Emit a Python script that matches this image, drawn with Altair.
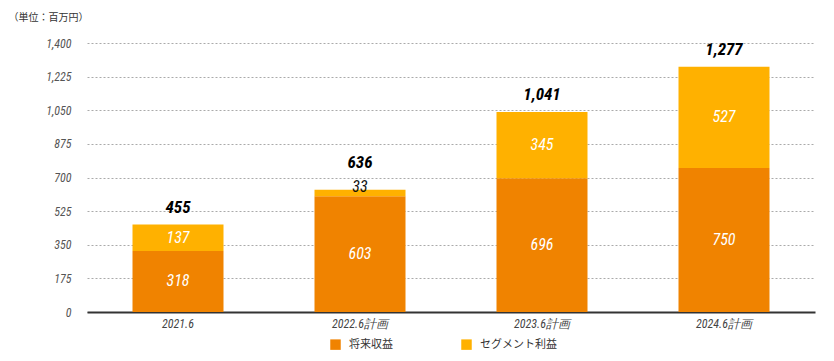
import altair as alt
import pandas as pd

categories = ["2021.6", "2022.6計画", "2023.6計画", "2024.6計画"]
series_names = ["将来収益", "セグメント利益"]
future_revenue = [318, 603, 696, 750]
segment_profit = [137, 33, 345, 527]
totals = [455, 636, 1041, 1277]
y_ticks = [0, 175, 350, 525, 700, 875, 1050, 1225, 1400]
colors = ["#F08300", "#FFB100"]

rows = []
for i, c in enumerate(categories):
    rows.append({"category": c, "series": series_names[0], "value": future_revenue[i], "order": 0})
    rows.append({"category": c, "series": series_names[1], "value": segment_profit[i], "order": 1})
df = pd.DataFrame(rows)
tot = pd.DataFrame({"category": categories, "total": totals})

FONT = "Liberation Sans Narrow, Roboto Condensed, Arial Narrow, Liberation Sans, sans-serif"

x_axis = alt.Axis(labelAngle=0, labelFontStyle="italic", labelFont=FONT, labelFontSize=12,
                  labelColor="#444", ticks=False, domainColor="#333", domainWidth=2,
                  labelPadding=6, title=None)
x_scale = alt.Scale(paddingInner=0.5, paddingOuter=0.25)
x = alt.X("category:N", sort=categories, title=None, scale=x_scale, axis=x_axis)

y_axis = alt.Axis(values=y_ticks, format=",.0f", labelOverlap=False,
                  title="（単位：百万円）",
                  titleAngle=0, titleX=-79, titleY=-26, titleAlign="left",
                  titleBaseline="middle", titleFontSize=10, titleFontWeight="normal",
                  titleColor="#333", titleFont="Noto Sans CJK JP",
                  labelFontStyle="italic", labelFont=FONT, labelFontSize=12,
                  labelColor="#555", labelPadding=16, ticks=False, domain=False,
                  gridDash=[2, 2], gridColor="#aaaaaa", gridWidth=1)
y_scale = alt.Scale(domain=[0, 1400], nice=False)

def Y(field, **kw):
    return alt.Y(field, scale=y_scale, axis=y_axis, title="（単位：百万円）", **kw)

bars = alt.Chart(df).mark_bar().encode(
    x=x,
    y=Y("value:Q", stack="zero"),
    color=alt.Color("series:N", sort=series_names,
                    scale=alt.Scale(domain=series_names, range=colors),
                    legend=alt.Legend(title=None, orient="none", direction="horizontal",
                                      legendX=243, legendY=296, symbolType="square",
                                      symbolSize=110, symbolStrokeWidth=0, labelFontSize=11,
                                      labelFont="Noto Sans CJK JP", labelColor="#333",
                                      columnPadding=68, labelOffset=8, padding=0)),
    order=alt.Order("order:Q", sort="ascending"),
)

stacked = alt.Chart(df).transform_stack(
    stack="value", groupby=["category"], as_=["y0", "y1"],
    sort=[alt.SortField("order", order="ascending")]
).transform_calculate(mid="(datum.y0 + datum.y1) / 2")

seg_big = stacked.transform_filter("datum.value >= 60").mark_text(
    color="white", font=FONT, fontStyle="italic", fontSize=16, baseline="middle"
).encode(x=x, y=Y("mid:Q"), text="value:Q")

seg_small = stacked.transform_filter("datum.value < 60").mark_text(
    color="#111", font=FONT, fontStyle="italic", fontSize=16, baseline="middle", dy=-6
).encode(x=x, y=Y("mid:Q"), text="value:Q")

tot_base = alt.Chart(tot)
tot_normal = tot_base.transform_filter("datum.category != '2022.6計画'").mark_text(
    color="black", font=FONT, fontStyle="italic", fontWeight="bold", fontSize=17, dy=-17,
    baseline="middle"
).encode(x=x, y=Y("total:Q"), text=alt.Text("total:Q", format=","))
tot_shift = tot_base.transform_filter("datum.category == '2022.6計画'").mark_text(
    color="black", font=FONT, fontStyle="italic", fontWeight="bold", fontSize=17, dy=-27,
    baseline="middle"
).encode(x=x, y=Y("total:Q"), text=alt.Text("total:Q", format=","))

chart = alt.layer(bars, seg_big, seg_small, tot_normal, tot_shift).properties(
    width=728, height=269,
    autosize=alt.AutoSizeParams(type="none"),
    padding={"left": 79, "top": 35, "right": 11, "bottom": 41},
).configure_view(stroke=None)

chart.save("out.html", embed_options={"renderer": "svg", "actions": False})
